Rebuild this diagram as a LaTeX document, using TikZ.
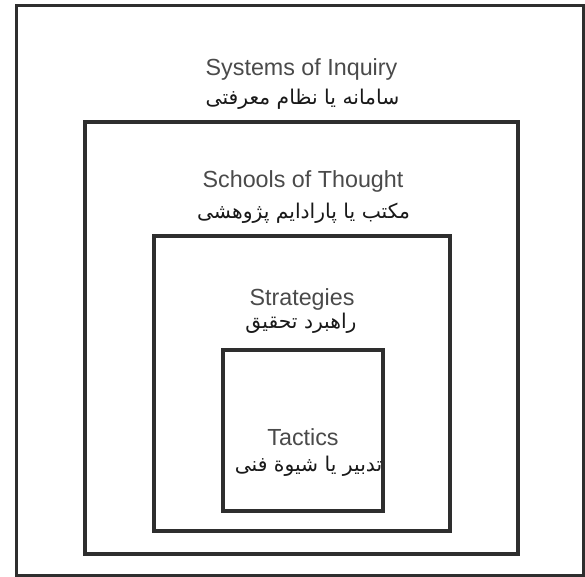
\documentclass[tikz,border=0pt]{standalone}
\usepackage{fontspec}
\setmainfont{Liberation Sans}
\newfontfamily\arabicfont[Script=Arabic]{DejaVu Sans}
\TeXXeTstate=1
\definecolor{linegray}{HTML}{2E2E2E}
\definecolor{textgray}{HTML}{4A4A4A}
\begin{document}
\begin{tikzpicture}[x=1pt,y=-1pt,
  box/.style={draw=linegray,line width=3.6pt,inner sep=0pt,fill=none},
  entext/.style={anchor=base,text=textgray,font=\fontsize{23.3}{25}\selectfont,inner sep=0pt},
  fatext/.style={anchor=center,text=black!90,font=\arabicfont\fontsize{20.3}{24}\selectfont,inner sep=0pt}]
\useasboundingbox (0,0) rectangle (585,576);
\fill[white] (0,0) rectangle (585,576);
\node[box,minimum width=567.5pt,minimum height=570pt] (outer) at (300.25,290.5) {};
\node[box,minimum width=433pt,minimum height=432pt] (schools) at (301.5,338) {};
\node[box,minimum width=296pt,minimum height=295pt] (strategies) at (302,383.5) {};
\node[box,minimum width=160pt,minimum height=161pt] (tactics) at (303,430.5) {};
\node[entext] (t1) at (301.5,75.5) {Systems of Inquiry};
\node[fatext] (p1) at (302.5,99) {\beginR سامانه یا نظام معرفتی\endR};
\node[entext] (t2) at (303,187) {Schools of Thought};
\node[fatext] (p2) at (303.5,213) {\beginR مکتب یا پارادایم پژوهشی\endR};
\node[entext] (t3) at (302,305) {Strategies};
\node[fatext] (p3) at (301,323) {\beginR راهبرد تحقیق\endR};
\node[entext] (t4) at (303,445) {Tactics};
\node[fatext] (p4) at (308.5,466) {\beginR تدبیر یا شیوة فنی\endR};
\end{tikzpicture}
\end{document}
